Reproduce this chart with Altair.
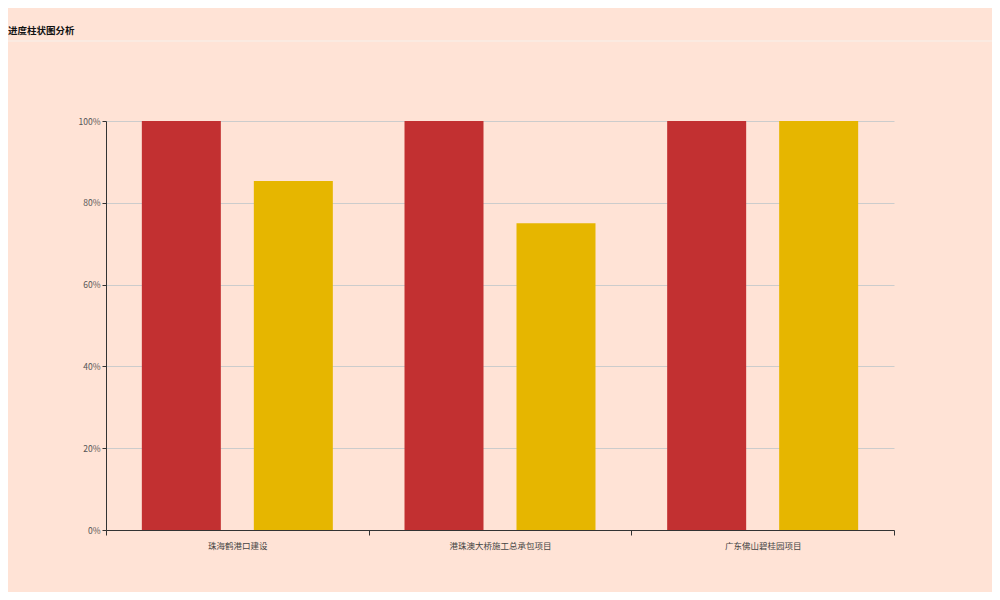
import altair as alt
import pandas as pd

projects = ["珠海鹤港口建设", "港珠澳大桥施工总承包项目", "广东佛山碧桂园项目"]
series = ["计划进度", "实际进度"]
plan_values = [1.0, 1.0, 1.0]
actual_values = [0.853, 0.75, 1.0]
colors = ["#C23031", "#E6B600"]

rows = []
for p, a, b in zip(projects, plan_values, actual_values):
    rows.append({"project": p, "series": series[0], "value": a})
    rows.append({"project": p, "series": series[1], "value": b})
df = pd.DataFrame(rows)

W, H = 788, 409

bars = alt.Chart(df).mark_bar().encode(
    x=alt.X("project:N", sort=projects, title=None,
            scale=alt.Scale(paddingInner=0, paddingOuter=0),
            axis=alt.Axis(labelAngle=0, tickBand="extent", domainColor="#333333",
                          tickColor="#333333", labelColor="#444444", labelFontSize=8.5,
                          labelFont="Noto Sans CJK SC", tickSize=5, labelPadding=6,
                          grid=False)),
    xOffset=alt.XOffset("series:N", sort=series,
                        scale=alt.Scale(paddingInner=0.2946, paddingOuter=0.32)),
    y=alt.Y("value:Q", title=None, scale=alt.Scale(domain=[0, 1], nice=False),
            axis=alt.Axis(format=".0%", values=[0, 0.2, 0.4, 0.6, 0.8, 1.0],
                          domainColor="#333333", tickColor="#333333",
                          labelColor="#555555", labelFontSize=8.5, labelFont="Noto Sans CJK SC",
                          tickSize=4, gridColor="#CCCCCC", grid=True)),
    color=alt.Color("series:N", sort=series, scale=alt.Scale(domain=series, range=colors),
                    legend=None),
)

title_df = pd.DataFrame({"t": ["进度柱状图分析"]})
title = alt.Chart(title_df).mark_text(
    align="left", baseline="middle", fontSize=9.5, fontWeight="bold",
    font="Noto Sans CJK SC", color="#111111"
).encode(text="t:N", x=alt.value(-98), y=alt.value(-90))

sep = alt.Chart(title_df).mark_rule(color="#FBEAE1", strokeWidth=2).encode(
    x=alt.value(-104), x2=alt.value(890), y=alt.value(-80))

chart = alt.layer(sep, bars, title).properties(
    width=W, height=H,
    background="#FFE3D6",
    padding={"left": 98, "top": 113, "right": 98, "bottom": 62},
    autosize=alt.AutoSizeParams(type="none"),
).configure_view(stroke=None)

chart.save("out.html", embed_options={"renderer": "svg", "actions": False})
